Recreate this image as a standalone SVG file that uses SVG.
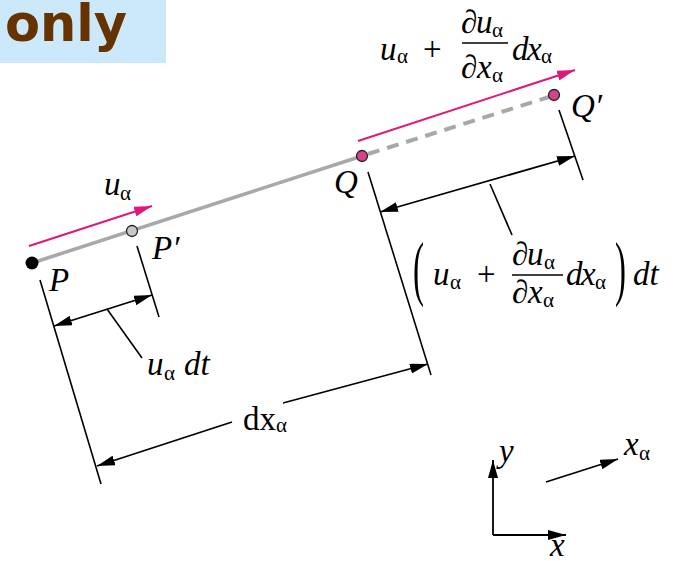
<svg xmlns="http://www.w3.org/2000/svg" width="675" height="561" viewBox="0 0 675 561">
<defs>
<style>
.it{font-family:"Liberation Serif","Times New Roman",serif;font-style:italic;font-size:33px;fill:#000}
.rm{font-family:"Liberation Serif","Times New Roman",serif;font-size:33px;fill:#000}
.sb{font-family:"Liberation Serif","Times New Roman",serif;font-size:21px;fill:#000}
.dim{stroke:#000;stroke-width:1.8;fill:none}
.ext{stroke:#000;stroke-width:1.6;fill:none}
.pk{stroke:#e0187a;stroke-width:2;fill:none}
</style>
<marker id="ab" viewBox="0 0 18 10" refX="18" refY="5" markerWidth="18" markerHeight="10" markerUnits="userSpaceOnUse" orient="auto-start-reverse"><path d="M0,0 L18,5 L0,10 z" fill="#000"/></marker>
<marker id="ap" viewBox="0 0 18 10" refX="18" refY="5" markerWidth="18" markerHeight="10" markerUnits="userSpaceOnUse" orient="auto"><path d="M0,0 L18,5 L0,10 z" fill="#e0187a"/></marker>
</defs>
<rect width="675" height="561" fill="#fff"/>
<g id="banner">
<rect x="0" y="0" width="166" height="63" fill="#cce9fb"/>
<text x="5" y="41" font-family="'DejaVu Sans',Verdana,sans-serif" font-weight="bold" font-size="51" fill="#663300">only</text>
</g>
<g id="connectors">
<line x1="32" y1="263" x2="362" y2="156" stroke="#a8a8a8" stroke-width="3.5"/>
<line x1="368" y1="154" x2="549" y2="97" stroke="#a8a8a8" stroke-width="4" stroke-dasharray="12,8"/>
<line class="pk" x1="29" y1="246" x2="152" y2="206" marker-end="url(#ap)"/>
<line class="pk" x1="358" y1="141" x2="575" y2="70" marker-end="url(#ap)"/>
<line class="ext" x1="40" y1="280" x2="101" y2="484"/>
<line class="ext" x1="137" y1="246" x2="159" y2="317"/>
<line class="ext" x1="368" y1="172" x2="431" y2="375"/>
<line class="ext" x1="559" y1="110" x2="583" y2="180"/>
<line class="dim" x1="54" y1="326" x2="152" y2="295" marker-start="url(#ab)" marker-end="url(#ab)"/>
<line class="ext" x1="107" y1="309" x2="142" y2="358"/>
<line class="dim" x1="380" y1="212" x2="575" y2="156" marker-start="url(#ab)" marker-end="url(#ab)"/>
<line class="ext" x1="490" y1="184" x2="512" y2="235"/>
<line class="dim" x1="232" y1="422" x2="97" y2="466" marker-end="url(#ab)"/>
<line class="dim" x1="283" y1="403" x2="428" y2="364" marker-end="url(#ab)"/>
</g>
<g id="P">
<circle cx="32" cy="263" r="6.5" fill="#000"/>
<text class="it" x="49" y="291">P</text>
</g>
<g id="Pp">
<circle cx="132" cy="231" r="5.5" fill="#c8c8c8" stroke="#222" stroke-width="1.3"/>
<text class="it" x="152" y="259">P′</text>
</g>
<g id="Q">
<circle cx="362" cy="156" r="5.5" fill="#d6428a" stroke="#222" stroke-width="1.3"/>
<text class="it" x="334" y="193">Q</text>
</g>
<g id="Qp">
<circle cx="554" cy="95" r="5.5" fill="#d6428a" stroke="#222" stroke-width="1.3"/>
<text class="it" x="571" y="117">Q′</text>
</g>
<g id="label-u">
<text class="it" x="104" y="195">u</text>
<text class="sb" x="120" y="200">α</text>
</g>
<g id="label-top">
<text class="it" x="380" y="60">u</text>
<text class="sb" x="397" y="63">α</text>
<text class="rm" x="423" y="60">+</text>
<text class="rm" x="461" y="33">∂</text>
<text class="it" x="476" y="33">u</text>
<text class="sb" x="492" y="37">α</text>
<line x1="462" y1="43" x2="508" y2="43" stroke="#000" stroke-width="1.3"/>
<text class="rm" x="461" y="78">∂</text>
<text class="it" x="477" y="78">x</text>
<text class="sb" x="492" y="82">α</text>
<text class="it" x="512" y="60">d</text>
<text class="it" x="527" y="60">x</text>
<text class="sb" x="541" y="63">α</text>
</g>
<g id="label-right">
<text class="rm" x="413" y="136" font-size="34" transform="scale(1,2.15)">(</text>
<text class="it" x="433" y="285">u</text>
<text class="sb" x="450" y="289">α</text>
<text class="rm" x="477" y="285">+</text>
<text class="rm" x="512" y="265">∂</text>
<text class="it" x="527" y="265">u</text>
<text class="sb" x="544" y="269">α</text>
<line x1="512" y1="275" x2="563" y2="275" stroke="#000" stroke-width="1.3"/>
<text class="rm" x="512" y="303">∂</text>
<text class="it" x="528" y="303">x</text>
<text class="sb" x="543" y="307">α</text>
<text class="it" x="566" y="285">d</text>
<text class="it" x="581" y="285">x</text>
<text class="sb" x="595" y="289">α</text>
<text class="rm" x="615" y="136" font-size="34" transform="scale(1,2.15)">)</text>
<text class="it" x="633" y="285">dt</text>
</g>
<g id="label-udt">
<text class="it" x="147" y="375">u</text>
<text class="sb" x="164" y="380">α</text>
<text class="it" x="184" y="375">dt</text>
</g>
<g id="label-dx">
<text class="rm" x="243" y="430" font-size="32">dx</text>
<text class="sb" x="276" y="432" font-size="20">α</text>
</g>
<g id="axes">
<line class="dim" x1="493" y1="535" x2="493" y2="460" marker-end="url(#ab)"/>
<line class="dim" x1="493" y1="535" x2="566" y2="535" marker-end="url(#ab)"/>
<line class="dim" x1="546" y1="482" x2="618" y2="459" marker-end="url(#ab)"/>
<text class="it" x="499" y="462">y</text>
<text class="it" x="550" y="556">x</text>
<text class="it" x="624" y="455">x</text>
<text class="sb" x="639" y="460">α</text>
</g>
</svg>
